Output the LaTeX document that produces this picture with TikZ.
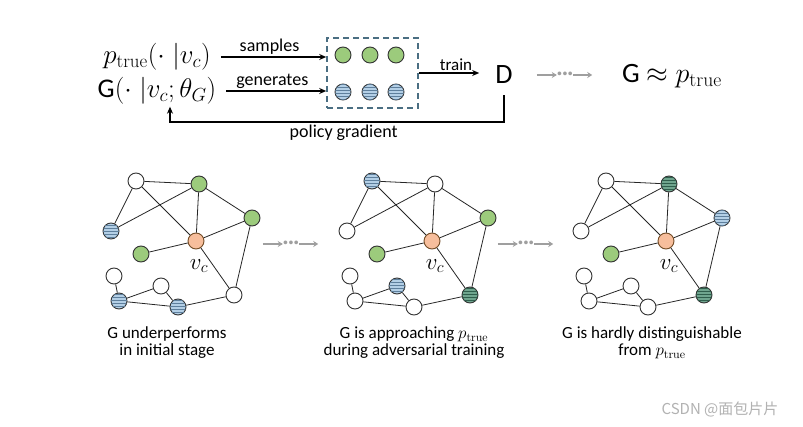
\RequirePackage{fix-cm}
\documentclass[tikz,border=0pt]{standalone}
\usepackage[no-math]{fontspec}
\setmainfont{Carlito}
\newfontfamily\cjk{Noto Sans CJK SC}
\usepackage{tikz}
\usetikzlibrary{positioning}
\usetikzlibrary{patterns,arrows.meta}

\definecolor{nodegreen}{HTML}{9CCB7C}
\definecolor{nodeblue}{HTML}{B3CFE6}
\definecolor{stripeblue}{HTML}{5E7F9C}
\definecolor{nodedark}{HTML}{6FA58E}
\definecolor{stripedark}{HTML}{2F5E4C}
\definecolor{nodeorange}{HTML}{F7BE9C}
\definecolor{boxline}{HTML}{4A6E82}

\begin{document}
\begin{tikzpicture}[x=1pt,y=-1pt,
	vtx/.style={circle,draw=black!80,line width=0.9pt,minimum size=16pt,inner sep=0pt},
	gn/.style={vtx,fill=nodegreen},
	wt/.style={vtx,fill=white},
	bs/.style={vtx,fill=nodeblue,postaction={pattern=horizontal lines,pattern color=stripeblue}},
	ds/.style={vtx,fill=nodedark,postaction={pattern=horizontal lines,pattern color=stripedark}},
	oc/.style={vtx,fill=nodeorange,draw=brown!60!black},
	lnk/.style={line width=0.8pt,black!85},
	arr/.style={line width=1.2pt,-{Stealth[length=7pt,width=6pt]}},
	garr/.style={line width=1.5pt,gray!75,-{Stealth[length=5pt,width=6pt]}},
	dotsbox/.style={inner sep=0pt,text height=10pt,text depth=0pt,text=gray!75,
		font=\fontsize{20}{22}\selectfont\bfseries},
	txt/.style={inner sep=2pt,font=\fontsize{18}{20}\selectfont},
	capt/.style={inner sep=0pt,align=center,font=\fontsize{17}{17}\selectfont},
	frm/.style={inner sep=2pt,font=\fontsize{27}{29}\selectfont},
	big/.style={inner sep=2pt,font=\fontsize{28}{30}\selectfont}]

	\fill[white] (0,0) rectangle (803,427);
	\useasboundingbox (0,0) rectangle (803,427);

	\node[frm] (ptrue) at (157,57) {$p_{\mathrm{true}}(\cdot\;|v_c)$};
	\node[frm] (gen) at (157,91) {G$(\cdot\;|v_c;\theta_G)$};
	\node[draw=boxline,dash pattern=on 6pt off 4pt,line width=1.6pt,
		minimum width=91pt,minimum height=70pt] (box) at (372.5,73) {};
	\foreach \i/\x in {1/343,2/370,3/396}{
		\node[gn] (sm\i) at (\x,55) {};
		\node[bs] (gm\i) at (\x,92) {};
	}
	\node[big] (D) at (504,75) {D};
	\node[big] (approx) at (672,76) {G $\approx p_{\mathrm{true}}$};

	\draw[arr,shorten <=8pt] (ptrue.east) -- (ptrue.east -| box.west)
		node[midway,above,txt] {samples};
	\draw[arr,shorten <=8pt] (gen.east) -- (gen.east -| box.west)
		node[midway,above,txt] {generates};
	\draw[arr,shorten >=14pt] (box.east) -- (box.east -| D.west)
		node[midway,above,txt,font=\fontsize{17}{18}\selectfont] {train};

	\coordinate (fb) at (170,122);
	\draw[arr,shorten <=9pt] (D.south) |- node[pos=0.74,below,txt] {policy gradient} (fb)
		-- (fb |- gen.south);

	% gray arrows with dots
	\foreach \k/\x/\y in {0/565/75,1/291/244,2/526/244}{
		\node[dotsbox] (dt\k) at (\x,\y) {···};
		\coordinate[left=20pt of dt\k] (dl\k);
		\coordinate[right=19pt of dt\k] (dr\k);
		\draw[garr] (dl\k) -- (dt\k);
		\draw[garr] (dt\k) -- (dr\k);
	}

	\foreach \gx/\g/\sa/\sb/\sc/\sd/\se/\sf/\sg/\sh in
		{196/1/wt/gn/gn/bs/wt/bs/bs/wt,
		 432/2/bs/wt/gn/wt/bs/wt/wt/ds,
		 666/3/wt/ds/bs/wt/wt/wt/wt/ds}{
		\begin{scope}[shift={(\gx,241)}]
			\node[oc] (c\g) at (0,0) {};
			\node[\sa] (ta\g) at (-60,-60) {};
			\node[\sb] (tb\g) at (3,-57) {};
			\node[\sc] (r\g) at (56,-23) {};
			\node[\sd] (l\g) at (-85,-10) {};
			\node[gn] (g\g) at (-55,13) {};
			\node[wt] (ba\g) at (-82,35) {};
			\node[\se] (m\g) at (-35,45) {};
			\node[\sf] (bb\g) at (-77,60) {};
			\node[\sg] (b\g) at (-18,66) {};
			\node[\sh] (br\g) at (38,54) {};
			\node[font=\fontsize{23}{25}\selectfont] (vc\g) at (3,25) {$v_c$};
			\draw[lnk] (ta\g) -- (tb\g) (ta\g) -- (l\g) (ta\g) -- (c\g)
				(l\g) -- (tb\g) (tb\g) -- (c\g) (tb\g) -- (r\g)
				(r\g) -- (c\g) (r\g) -- (br\g) (c\g) -- (g\g) (c\g) -- (br\g)
				(ba\g) -- (bb\g) (bb\g) -- (m\g) (m\g) -- (b\g)
				(bb\g) -- (b\g) (b\g) -- (br\g);
		\end{scope}
	}

	\node[capt] (cap1) at (167,343) {G underperforms\\in initial stage};
	\node[capt] (cap2) at (414,343) {G is approaching $p_{\mathrm{true}}$\\during adversarial training};
	\node[capt] (cap3) at (652,343) {G is hardly distinguishable\\from $p_{\mathrm{true}}$};

	\node[font=\cjk\fontsize{15}{17}\selectfont,text=gray!60] (wm) at (720,409) {CSDN @面包片片};
\end{tikzpicture}
\end{document}
